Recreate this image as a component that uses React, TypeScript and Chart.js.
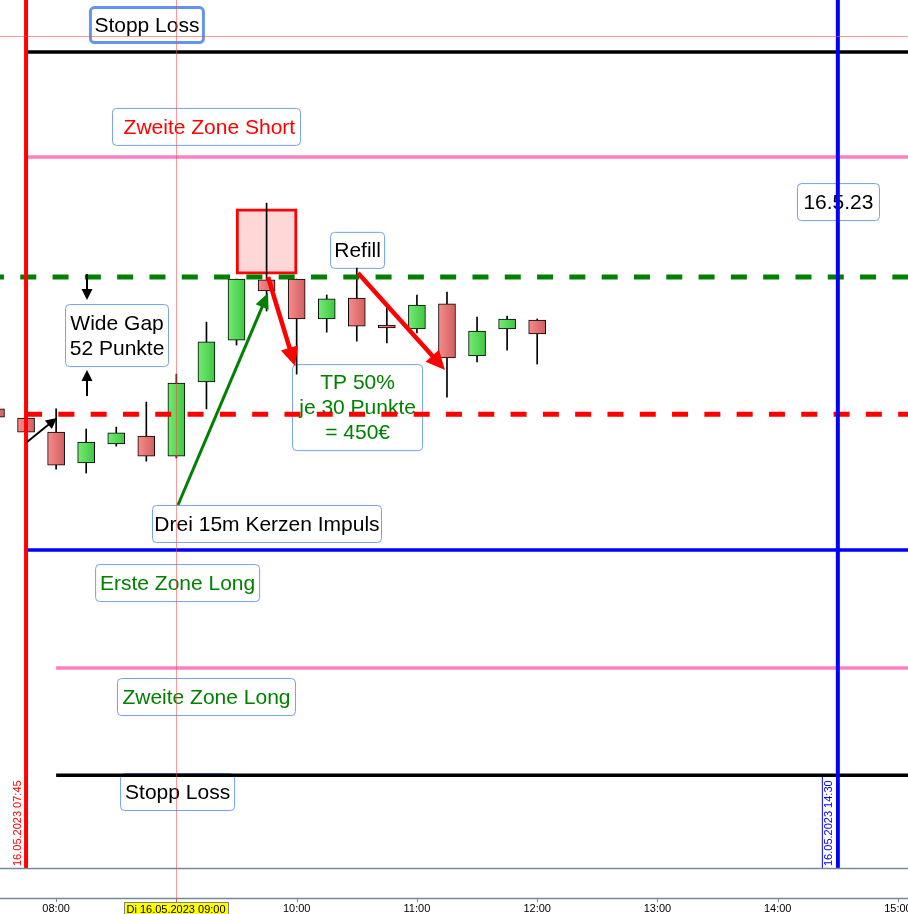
import { useEffect, useRef } from 'react';
import { Chart, registerables } from 'chart.js';

Chart.register(...registerables);

// ---------------- data ----------------
const candleTimes = ['07:30', '07:45', '08:00', '08:15', '08:30', '08:45', '09:00', '09:15', '09:30', '09:45', '10:00', '10:15', '10:30', '10:45', '11:00', '11:15', '11:30', '11:45', '12:00'];
const opens = [15902.0, 15898.5, 15893.2, 15881.5, 15888.7, 15891.7, 15884.1, 15912.2, 15928.1, 15950.9, 15951.2, 15936.1, 15944.0, 15933.8, 15932.3, 15941.8, 15922.1, 15932.3, 15935.7];
const highs = [15902.0, 15898.5, 15902.0, 15894.4, 15895.1, 15904.6, 15915.2, 15934.9, 15951.2, 15980.0, 15951.2, 15945.2, 15955.4, 15940.2, 15945.2, 15946.3, 15936.8, 15937.2, 15936.1];
const lows = [15898.9, 15893.2, 15879.2, 15877.7, 15887.9, 15882.2, 15883.4, 15902.0, 15926.2, 15939.1, 15915.2, 15931.1, 15927.7, 15927.0, 15930.8, 15906.5, 15919.8, 15924.3, 15919.0];
const closes = [15898.9, 15893.2, 15880.7, 15889.4, 15892.9, 15884.1, 15911.8, 15927.4, 15951.2, 15946.7, 15936.1, 15943.7, 15933.4, 15932.7, 15941.4, 15921.3, 15931.5, 15936.1, 15930.4];

// horizontal levels
const levelNames = ['Stopp Loss Short', 'Zweite Zone Short', 'Gap oben', 'Gap unten', 'Erste Zone Long', 'Zweite Zone Long', 'Stopp Loss Long'];
const levelPrices = [16037.3, 15997.5, 15952.0, 15900.0, 15848.5, 15803.8, 15763.2];
const levelFrom = ['07:45', '07:45', '07:26', '07:45', '07:45', '08:00', '08:00'];
const levelTo = '15:10';

// vertical session markers
const markerTimes = ['07:45', '14:30'];
const markerLabels = ['16.05.2023 07:45', '16.05.2023 14:30'];

// signal box (09:30 - 10:00 candle range)
const boxTime = '09:45';
const boxRange = [15953.1, 15977.8];

// crosshair
const crossTime = '09:00';
const crossPrice = 16043.4;
const crossLabel = 'Di 16.05.2023 09:00';

// axis
const axisMin = '07:32';
const axisMax = '15:05';
const priceMin = 15728;
const priceMax = 16057;

// arrows
const arrowFromTimes = ['07:45.5', '08:15.4', '08:15.4', '09:00.8', '09:45.7', '10:30.6'];
const arrowFromPrices = [15889.5, 15953.1, 15906.9, 15865.6, 15952.0, 15953.5];
const arrowToTimes = ['08:00.4', '08:15.4', '08:15.4', '09:45.7', '09:59.2', '11:14.0'];
const arrowToPrices = [15898.6, 15943.3, 15916.8, 15945.9, 15918.3, 15916.8];

// notes
const noteTexts = [
  ['Stopp Loss'],
  [' Zweite Zone Short'],
  ['16.5.23'],
  ['Refill'],
  ['Wide Gap', '52 Punkte'],
  ['TP 50%', 'je 30 Punkte', '= 450€'],
  ['Drei 15m Kerzen Impuls'],
  ['Erste Zone Long'],
  ['Zweite Zone Long'],
  ['Stopp Loss'],
];
const noteTimes = ['08:45.3', '09:15.0', '14:30.3', '10:30.4', '08:30.4', '10:30.4', '09:45.2', '09:00.6', '09:15.0', '09:00.6'];
const notePrices = [16047.5, 16008.9, 15980.4, 15962.1, 15929.8, 15902.5, 15858.4, 15836.0, 15792.8, 15756.8];

// ---------------- styles (not data) ----------------
const levelStyles = [
  { color: '#000000', width: 3.5, dash: [] as number[] },
  { color: '#ff80c0', width: 3.5, dash: [] as number[] },
  { color: '#008000', width: 5, dash: [16, 16.3] },
  { color: '#ff0000', width: 5, dash: [16, 16.3] },
  { color: '#0000ff', width: 3.5, dash: [] as number[] },
  { color: '#ff80c0', width: 3.5, dash: [] as number[] },
  { color: '#000000', width: 3.5, dash: [] as number[] },
];
const markerColors = ['#ff0000', '#0000ff'];
const arrowStyles = [
  { color: '#000000', width: 2, len: 11, half: 5.5 },
  { color: '#000000', width: 2, len: 11, half: 5.5 },
  { color: '#000000', width: 2, len: 11, half: 5.5 },
  { color: '#008000', width: 3, len: 15, half: 7 },
  { color: '#ff0000', width: 4.5, len: 19, half: 9 },
  { color: '#ff0000', width: 4.5, len: 19, half: 9 },
];
const noteStyles = [
  { color: '#000000', w: 116, h: 38, bw: 3 },
  { color: '#ff0000', w: 189, h: 38, bw: 1 },
  { color: '#000000', w: 83, h: 38, bw: 1 },
  { color: '#000000', w: 55, h: 37, bw: 1 },
  { color: '#000000', w: 104, h: 63, bw: 1 },
  { color: '#008000', w: 131, h: 87, bw: 1 },
  { color: '#000000', w: 230, h: 38, bw: 1 },
  { color: '#008000', w: 165, h: 38, bw: 1 },
  { color: '#008000', w: 179, h: 38, bw: 1 },
  { color: '#000000', w: 115, h: 38, bw: 1 },
];

const FONT = '"Liberation Sans", Arial, sans-serif';

function hm(s: string): number {
  const [h, m] = s.split(':');
  return parseInt(h, 10) * 60 + parseFloat(m);
}
function fmt(v: number): string {
  const h = Math.floor(v / 60);
  const m = Math.round(v % 60);
  return String(h).padStart(2, '0') + ':' + String(m).padStart(2, '0');
}

function rrect(ctx: CanvasRenderingContext2D, x: number, y: number, w: number, h: number, r: number) {
  ctx.beginPath();
  ctx.moveTo(x + r, y);
  ctx.lineTo(x + w - r, y);
  ctx.arcTo(x + w, y, x + w, y + r, r);
  ctx.lineTo(x + w, y + h - r);
  ctx.arcTo(x + w, y + h, x + w - r, y + h, r);
  ctx.lineTo(x + r, y + h);
  ctx.arcTo(x, y + h, x, y + h - r, r);
  ctx.lineTo(x, y + r);
  ctx.arcTo(x, y, x + r, y, r);
  ctx.closePath();
}

const bodyColor = (c: any) => {
  const i = c.dataIndex;
  if (c.type !== 'data' || i === undefined) return '#888888';
  const up = closes[i] >= opens[i];
  const chart = c.chart;
  const sx = chart.scales && chart.scales.x;
  const x = sx ? sx.getPixelForValue(hm(candleTimes[i])) : NaN;
  if (!Number.isFinite(x)) return up ? '#5ad85a' : '#e47575';
  const g = chart.ctx.createLinearGradient(x - 8, 0, x + 8, 0);
  if (up) {
    g.addColorStop(0, '#72ea72');
    g.addColorStop(1, '#42c842');
  } else {
    g.addColorStop(0, '#f68a8a');
    g.addColorStop(1, '#d26060');
  }
  return g;
};

const bgPlugin = {
  id: 'bg',
  beforeDraw(chart: any) {
    const c = chart.ctx;
    c.save();
    c.fillStyle = '#ffffff';
    c.fillRect(0, 0, chart.width, chart.height);
    c.restore();
  },
};

const notesPlugin = {
  id: 'notes',
  beforeDatasetsDraw(chart: any) {
    const c: CanvasRenderingContext2D = chart.ctx;
    const xs = chart.scales.x;
    const ys = chart.scales.y;
    c.save();
    noteTexts.forEach((lines, i) => {
      const st = noteStyles[i];
      const cx = xs.getPixelForValue(hm(noteTimes[i]));
      const cy = ys.getPixelForValue(notePrices[i]);
      const x0 = cx - st.w / 2;
      const y0 = cy - st.h / 2;
      rrect(c, x0 + st.bw / 2, y0 + st.bw / 2, st.w - st.bw, st.h - st.bw, 4);
      c.fillStyle = '#ffffff';
      c.fill();
      c.lineWidth = st.bw;
      c.strokeStyle = st.bw > 1 ? '#6495ed' : '#74a0f0';
      c.stroke();
      c.fillStyle = st.color;
      c.font = '21px ' + FONT;
      c.textAlign = 'center';
      c.textBaseline = 'middle';
      lines.forEach((ln, k) => {
        c.fillText(ln, cx, cy + 1 + (k - (lines.length - 1) / 2) * 25);
      });
    });
    c.restore();
  },
};

const overlayPlugin = {
  id: 'overlay',
  afterDraw(chart: any) {
    const c: CanvasRenderingContext2D = chart.ctx;
    const xs = chart.scales.x;
    const ys = chart.scales.y;
    const area = chart.chartArea;
    c.save();

    // arrows
    arrowFromTimes.forEach((_, i) => {
      const st = arrowStyles[i];
      const x1 = xs.getPixelForValue(hm(arrowFromTimes[i]));
      const y1 = ys.getPixelForValue(arrowFromPrices[i]);
      const x2 = xs.getPixelForValue(hm(arrowToTimes[i]));
      const y2 = ys.getPixelForValue(arrowToPrices[i]);
      const dx = x2 - x1;
      const dy = y2 - y1;
      const L = Math.hypot(dx, dy) || 1;
      const ux = dx / L;
      const uy = dy / L;
      const bx = x2 - ux * st.len;
      const by = y2 - uy * st.len;
      c.strokeStyle = st.color;
      c.lineWidth = st.width;
      c.lineCap = 'butt';
      c.beginPath();
      c.moveTo(x1, y1);
      c.lineTo(bx + ux * 2, by + uy * 2);
      c.stroke();
      c.fillStyle = st.color;
      c.beginPath();
      c.moveTo(x2, y2);
      c.lineTo(bx - uy * st.half, by + ux * st.half);
      c.lineTo(bx + uy * st.half, by - ux * st.half);
      c.closePath();
      c.fill();
    });

    // marker labels (rotated)
    c.font = '11px ' + FONT;
    markerTimes.forEach((t, i) => {
      const x = xs.getPixelForValue(hm(t));
      if (i === 1) {
        c.fillStyle = '#ffffff';
        c.fillRect(x - 16, area.bottom - 91, 14, 91);
        c.strokeStyle = '#0000ff';
        c.lineWidth = 1;
        c.beginPath();
        c.moveTo(x - 15.5, area.bottom);
        c.lineTo(x - 15.5, area.bottom - 91);
        c.stroke();
      }
      c.save();
      c.translate(x - 8.5, area.bottom - 2);
      c.rotate(-Math.PI / 2);
      c.fillStyle = markerColors[i];
      c.textAlign = 'left';
      c.textBaseline = 'middle';
      c.fillText(markerLabels[i], 0, 0);
      c.restore();
    });

    // axis lines
    c.strokeStyle = '#778899';
    c.lineWidth = 1.5;
    c.beginPath();
    c.moveTo(0, area.bottom + 0.5);
    c.lineTo(chart.width, area.bottom + 0.5);
    c.moveTo(0, area.bottom + 30.5);
    c.lineTo(chart.width, area.bottom + 30.5);
    c.stroke();
    c.lineWidth = 1;
    c.beginPath();
    xs.ticks.forEach((tk: any) => {
      const x = Math.round(xs.getPixelForValue(tk.value)) + 0.5;
      c.moveTo(x, area.bottom + 31);
      c.lineTo(x, area.bottom + 34);
    });
    c.stroke();

    // crosshair
    const cxp = Math.round(xs.getPixelForValue(hm(crossTime))) + 0.5;
    const cyp = Math.round(ys.getPixelForValue(crossPrice)) + 0.5;
    c.strokeStyle = 'rgba(255, 70, 70, 0.55)';
    c.lineWidth = 1;
    c.beginPath();
    c.moveTo(cxp, 0);
    c.lineTo(cxp, area.bottom + 34);
    c.moveTo(0, cyp);
    c.lineTo(chart.width, cyp);
    c.stroke();

    // crosshair time label
    c.font = '11px ' + FONT;
    const tw = c.measureText(crossLabel).width;
    const bw = tw + 5;
    const bx = cxp - 0.5 - bw / 2;
    const by = area.bottom + 34;
    c.fillStyle = '#ffff00';
    c.fillRect(bx, by, bw, 20);
    c.strokeStyle = '#808080';
    c.lineWidth = 1;
    c.strokeRect(Math.round(bx) + 0.5, by + 0.5, Math.round(bw), 20);
    c.fillStyle = '#000000';
    c.textAlign = 'center';
    c.textBaseline = 'middle';
    c.fillText(crossLabel, cxp - 0.5, by + 7.5);

    c.restore();
  },
};

export default function App() {
  const ref = useRef<HTMLCanvasElement | null>(null);

  useEffect(() => {
    document.body.style.margin = '0';
    const canvas = ref.current;
    if (!canvas) return;

    const xMin = hm(axisMin);
    const xMax = hm(axisMax);
    const datasets: any[] = [];

    datasets.push({
      type: 'bar',
      label: 'Signal',
      data: [{ x: hm(boxTime), y: boxRange }],
      backgroundColor: '#ffd7d7',
      borderColor: '#ff0000',
      borderWidth: 3,
      borderSkipped: false,
      barThickness: 61,
      grouped: false,
      order: 5,
    });
    datasets.push({
      type: 'bar',
      label: 'Docht',
      data: candleTimes.map((t, i) => ({ x: hm(t), y: [lows[i], highs[i]] })),
      backgroundColor: '#000000',
      borderWidth: 0,
      barThickness: 1,
      grouped: false,
      order: 4,
    });
    datasets.push({
      type: 'bar',
      label: 'Kerze',
      data: candleTimes.map((t, i) => ({ x: hm(t), y: [opens[i], closes[i]] })),
      backgroundColor: bodyColor,
      borderColor: '#000000',
      borderWidth: 1,
      borderSkipped: false,
      barThickness: 17,
      grouped: false,
      order: 3,
    });
    levelPrices.forEach((p, i) => {
      datasets.push({
        type: 'line',
        label: levelNames[i],
        data: [{ x: hm(levelFrom[i]), y: p }, { x: hm(levelTo), y: p }],
        borderColor: levelStyles[i].color,
        borderWidth: levelStyles[i].width,
        borderDash: levelStyles[i].dash,
        borderCapStyle: 'butt',
        pointRadius: 0,
        fill: false,
        order: 2,
      });
    });
    markerTimes.forEach((t, i) => {
      datasets.push({
        type: 'line',
        label: markerLabels[i],
        data: [{ x: hm(t), y: priceMin }, { x: hm(t), y: priceMax }],
        borderColor: markerColors[i],
        borderWidth: 4,
        pointRadius: 0,
        fill: false,
        order: 1,
      });
    });

    const chart = new Chart(canvas, {
      type: 'bar',
      data: { datasets },
      options: {
        animation: false,
        responsive: false,
        events: [],
        layout: { padding: 0 },
        plugins: {
          legend: { display: false },
          tooltip: { enabled: false },
          title: { display: false },
        },
        scales: {
          x: {
            type: 'linear',
            min: xMin,
            max: xMax,
            offset: false,
            grid: { display: false, drawTicks: false },
            border: { display: false },
            ticks: {
              stepSize: 60,
              includeBounds: false,
              autoSkip: false,
              maxRotation: 0,
              minRotation: 0,
              padding: 34,
              color: '#000000',
              font: { family: FONT, size: 11 },
              callback: (v: any) => fmt(Number(v)),
            },
            afterFit: (s: any) => {
              s.height = 46;
              s.paddingLeft = 0;
              s.paddingRight = 0;
            },
          },
          y: {
            type: 'linear',
            display: false,
            min: priceMin,
            max: priceMax,
          },
        },
      } as any,
      plugins: [bgPlugin, notesPlugin, overlayPlugin],
    });

    return () => chart.destroy();
  }, []);

  return (
    <div style={{ width: 908, height: 914 }}>
      <canvas ref={ref} width={908} height={914} style={{ display: 'block' }} />
    </div>
  );
}
